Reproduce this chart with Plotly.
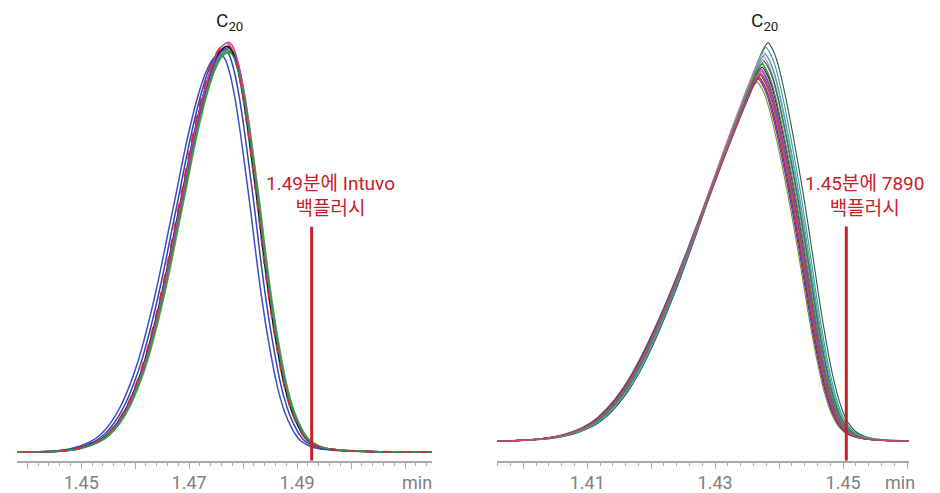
import plotly.graph_objects as go

# ---------------- data ----------------
# Left panel: Intuvo, C20 peak. Template shape (offset from apex in min, relative signal %)
intuvo_offset_min = [-0.0480, -0.0389, -0.0315, -0.0278, -0.0241, -0.0222, -0.0204, -0.0185,
                     -0.0167, -0.0153, -0.0139, -0.0125, -0.0111, -0.0097, -0.0083, -0.0070,
                     -0.0056, -0.0042, -0.0028, -0.0014, 0.0, 0.0009, 0.00185, 0.0028,
                     0.0037, 0.0046, 0.0056, 0.0065, 0.0074, 0.0083, 0.0093, 0.0102,
                     0.0111, 0.0120, 0.0130, 0.0139, 0.0148, 0.0162, 0.0176, 0.0195,
                     0.0213, 0.0259, 0.0370, 0.0450]
intuvo_signal = [0.0, 0.05, 0.2, 0.8, 2.6, 4.4, 7.2, 11.5,
                 17.2, 22.7, 29.5, 37.2, 45.8, 55.2, 64.4, 73.3,
                 82.0, 89.4, 95.2, 98.8, 100.0, 98.7, 94.6, 88.1,
                 80.1, 71.0, 60.7, 50.5, 41.1, 32.8, 24.9, 18.5,
                 13.5, 9.7, 6.6, 4.4, 2.9, 1.7, 1.0, 0.6,
                 0.4, 0.15, 0.05, 0.0]
intuvo_apex_min = 1.4770
intuvo_shift_min = [-0.0012, -0.0005, 0.0004, 0.0006, 0.0005, 0.0003, 0.0001, 0.0003, 0.0004, 0.0]
intuvo_height = [97.8, 99.0, 98.6, 98.8, 99.2, 99.5, 99.8, 100.8, 98.3, 100.5]
intuvo_colors = ['#3a4fc4', '#2f45b0', '#1f7a3a', '#9a9a22', '#2a9a9a', '#6b3a8f',
                 '#111111', '#c03cc0', '#2aa04a', '#e02828']
intuvo_dash = ['solid'] * 9 + ['dash']

# Right panel: 7890, C20 peak
gc7890_offset_min = [-0.0500, -0.04109, -0.03594, -0.03281, -0.03047, -0.02813, -0.02656, -0.02500,
                     -0.02344, -0.02188, -0.02031, -0.01875, -0.01719, -0.01563, -0.01406, -0.01250,
                     -0.01094, -0.00938, -0.00781, -0.00625, -0.00469, -0.00313, -0.00188, -0.00094,
                     0.0, 0.00078, 0.00156, 0.00234, 0.00313, 0.00391, 0.00469, 0.00547,
                     0.00625, 0.00703, 0.00781, 0.00859, 0.00938, 0.01016, 0.01094, 0.01172,
                     0.01250, 0.01359, 0.01484, 0.01641, 0.01875, 0.02344, 0.0300]
gc7890_signal = [0.0, 0.0, 0.3, 0.9, 1.7, 3.1, 4.5, 6.5,
                 9.2, 12.5, 16.6, 21.5, 27.0, 33.0, 39.4, 46.2,
                 53.2, 60.5, 67.8, 75.0, 82.0, 88.8, 94.0, 97.8,
                 100.0, 98.0, 94.5, 89.3, 83.2, 76.6, 69.6, 62.2,
                 54.3, 46.0, 37.5, 29.5, 22.2, 16.0, 11.0, 7.2,
                 4.6, 2.5, 1.3, 0.6, 0.2, 0.0, 0.0]
gc7890_apex_min = 1.43703
gc7890_shift_min = [0.00125, 0.00094, 0.00062, 0.00047, 0.00047, 0.00031, 0.00031, 0.00016,
                    0.0, 0.0, -0.00016, -0.00047, -0.00031, 0.0, 0.00016, 0.00062,
                    0.00016, 0.0, 0.00078, -0.00016, 0.00031, 0.0]
gc7890_height = [107.6, 106.3, 105.0, 104.0, 103.0, 101.8, 101.0, 100.0,
                 99.5, 99.2, 98.3, 97.0, 97.8, 99.7, 100.5, 102.5,
                 99.0, 98.8, 104.5, 98.0, 102.0, 99.0]
gc7890_colors = ['#2d5a3c', '#3a9a8c', '#8aa6c8', '#e06aa0', '#6f9a7c', '#2a8a3a', '#1a1a1a', '#2036c0',
                 '#7a2a8a', '#e02030', '#c02050', '#8a8a1e', '#3040b0', '#f08aa0', '#a04a8a', '#207070',
                 '#5a5aa8', '#b03030', '#40a0b0', '#903060', '#6a8a3a', '#d04080']

backflush_min = [1.4927, 1.4505]
backflush_labels = ['1.49분에 Intuvo<br>백플러시', '1.45분에 7890<br>백플러시']
peak_label = 'C<sub>20</sub>'

left_label_ticks = [1.45, 1.47, 1.49]
right_label_ticks = [1.41, 1.43, 1.45]
axis_unit = 'min'

# ---------------- figure ----------------
# the page body has an 8 px margin; work in window pixels and convert
W, H, OFF = 932, 485, 8


def px(x):
    return (x - OFF) / W


def py(y):
    return 1 - (y - OFF) / H


fig = go.Figure()

for sh, h, c, d in zip(intuvo_shift_min, intuvo_height, intuvo_colors, intuvo_dash):
    fig.add_trace(go.Scatter(
        x=[intuvo_apex_min + sh + o for o in intuvo_offset_min],
        y=[s * h / 100.0 for s in intuvo_signal],
        mode='lines', line=dict(color=c, width=1.5, dash=d, shape='spline', smoothing=0.8),
        xaxis='x', yaxis='y', showlegend=False, hoverinfo='skip'))

for sh, h, c in zip(gc7890_shift_min, gc7890_height, gc7890_colors):
    fig.add_trace(go.Scatter(
        x=[gc7890_apex_min + sh + o for o in gc7890_offset_min],
        y=[s * h / 100.0 for s in gc7890_signal],
        mode='lines', line=dict(color=c, width=1.1, shape='spline', smoothing=0.5),
        xaxis='x2', yaxis='y2', showlegend=False, hoverinfo='skip'))

tick_font = dict(family='Roboto, Noto Sans, sans-serif', size=18, color='#808080')
grey = '#a8a8a8'
# base axes: line, 0.01 ticks and 0.002 minor ticks, no labels
base_axis = dict(
    showline=True, linecolor=grey, linewidth=2,
    ticks='outside', ticklen=6, tickwidth=1, tickcolor=grey,
    showticklabels=False, showgrid=False, zeroline=False,
    tickmode='linear', tick0=1.40, dtick=0.01,
    minor=dict(tickmode='linear', tick0=1.40, dtick=0.002, ticks='outside',
               ticklen=3, tickwidth=1, tickcolor=grey, showgrid=False),
)
# label axes overlaid: only the labelled ticks
label_axis = dict(
    showline=False, ticks='outside', ticklen=6, tickwidth=1, tickcolor=grey,
    tickfont=tick_font, showgrid=False, zeroline=False, tickmode='array',
)
ydom = [py(467.5), 1.0]
xdom_l = [px(17), px(432)]
xdom_r = [px(497), px(909)]
xr_l = [1.4381, 1.515]
xr_r = [1.3959, 1.4603]

fig.update_layout(
    width=W, height=H,
    margin=dict(l=0, r=0, t=0, b=0),
    paper_bgcolor='white', plot_bgcolor='white',
    xaxis=dict(domain=xdom_l, range=xr_l, anchor='y', **base_axis),
    yaxis=dict(domain=ydom, range=[-2.18, 109.21], visible=False, anchor='x'),
    xaxis2=dict(domain=xdom_r, range=xr_r, anchor='y2', **base_axis),
    yaxis2=dict(domain=ydom, range=[-5.38, 116.96], visible=False, anchor='x2'),
    xaxis3=dict(domain=xdom_l, range=xr_l, anchor='y', overlaying='x',
                tickvals=left_label_ticks, ticktext=[f'{v:.2f}' for v in left_label_ticks], **label_axis),
    xaxis4=dict(domain=xdom_r, range=xr_r, anchor='y2', overlaying='x2',
                tickvals=right_label_ticks, ticktext=[f'{v:.2f}' for v in right_label_ticks], **label_axis),
    font=dict(family='Roboto, Noto Sans CJK KR, sans-serif'),
)
# invisible traces so the overlaid label axes are drawn
fig.add_trace(go.Scatter(x=[xr_l[0]], y=[0], xaxis='x3', yaxis='y', mode='markers',
                         marker=dict(opacity=0), showlegend=False, hoverinfo='skip'))
fig.add_trace(go.Scatter(x=[xr_r[0]], y=[0], xaxis='x4', yaxis='y2', mode='markers',
                         marker=dict(opacity=0), showlegend=False, hoverinfo='skip'))

# backflush markers
red = '#c8202a'
fig.add_shape(type='line', xref='x', yref='y', x0=backflush_min[0], x1=backflush_min[0],
              y0=-2.18, y1=55.4, line=dict(color=red, width=3))
fig.add_shape(type='line', xref='x2', yref='y2', x0=backflush_min[1], x1=backflush_min[1],
              y0=-5.38, y1=57.9, line=dict(color=red, width=3))

lab_font = dict(family='Roboto, Noto Sans CJK KR, sans-serif', size=19, color='#c8202a')
fig.add_annotation(x=px(330), y=py(199), xref='paper', yref='paper', text=backflush_labels[0],
                   showarrow=False, font=lab_font, align='center', xanchor='center', yanchor='middle')
fig.add_annotation(x=px(864), y=py(199), xref='paper', yref='paper', text=backflush_labels[1],
                   showarrow=False, font=lab_font, align='center', xanchor='center', yanchor='middle')

title_font = dict(family='Roboto, sans-serif', size=19, color='#222222')
fig.add_annotation(x=px(229), y=1.0, xref='paper', yref='paper', text=peak_label,
                   showarrow=False, font=title_font, xanchor='center', yanchor='top', borderpad=0)
fig.add_annotation(x=px(764), y=1.0, xref='paper', yref='paper', text=peak_label,
                   showarrow=False, font=title_font, xanchor='center', yanchor='top', borderpad=0)

for xc in [417, 900]:
    fig.add_annotation(x=px(xc), y=py(489), xref='paper', yref='paper', text=axis_unit,
                       showarrow=False, font=tick_font, xanchor='center', yanchor='middle')

fig.write_html('out.html')
